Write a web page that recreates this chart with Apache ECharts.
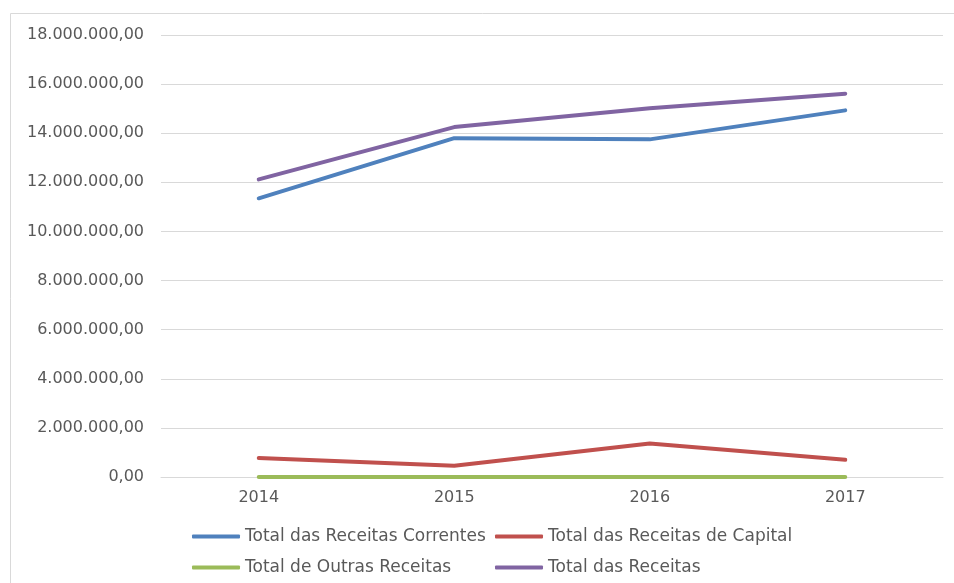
<!DOCTYPE html>
<html>
<head>
<meta charset="utf-8">
<script src="https://cdn.jsdelivr.net/npm/echarts@6/dist/echarts.min.js"></script>
<style>
  html, body { margin: 0; padding: 0; background: #fff; }
  #chart { width: 954px; height: 583px; }
</style>
</head>
<body>
<div id="chart"></div>
<script>
const years = ['2014', '2015', '2016', '2017']
const correntes = [11350000, 13800000, 13750000, 14930000]
const capital = [770000, 460000, 1360000, 700000]
const outras = [0, 0, 0, 0]
const totais = [12120000, 14250000, 15020000, 15610000]

const names = [
  'Total das Receitas Correntes',
  'Total das Receitas de Capital',
  'Total de Outras Receitas',
  'Total das Receitas'
]
const colors = ['#4f81bd', '#c0504d', '#9bbb59', '#8064a2']

const fmt = v => {
  const s = Math.round(v).toString().replace(/\B(?=(\d{3})+(?!\d))/g, '.')
  return s + ',00'
}

const chart = echarts.init(document.getElementById('chart'))

const legendPos = [
  { left: 192, top: 528 },
  { left: 495, top: 528 },
  { left: 192, top: 559 },
  { left: 495, top: 559 }
]

const option = {
  animation: false,
  color: colors,
  textStyle: { fontFamily: 'DejaVu Sans, sans-serif' },
  graphic: [{
    type: 'rect',
    shape: { x: 10.5, y: 13.5, width: 960, height: 600 },
    style: { fill: 'none', stroke: '#d9d9d9', lineWidth: 1 },
    silent: true
  }],
  legend: names.map((n, i) => ({
    data: [n],
    left: legendPos[i].left,
    top: legendPos[i].top,
    icon: 'roundRect',
    itemWidth: 48,
    itemHeight: 4,
    itemGap: 6,
    padding: 0,
    textStyle: { fontSize: 17, color: '#595959' }
  })),
  grid: {
    left: 161,
    right: 11,
    top: 35,
    bottom: 106
  },
  xAxis: {
    type: 'category',
    data: years,
    boundaryGap: true,
    axisTick: { show: false },
    axisLine: { lineStyle: { color: '#d9d9d9', width: 1 } },
    axisLabel: { color: '#595959', fontSize: 16, margin: 13 }
  },
  yAxis: {
    type: 'value',
    min: 0,
    max: 18000000,
    interval: 2000000,
    axisLine: { show: false },
    axisTick: { show: false },
    axisLabel: { color: '#595959', fontSize: 16, margin: 17, formatter: fmt },
    splitLine: { lineStyle: { color: '#d9d9d9', width: 1 } }
  },
  series: [
    { name: names[0], type: 'line', data: correntes },
    { name: names[1], type: 'line', data: capital },
    { name: names[2], type: 'line', data: outras },
    { name: names[3], type: 'line', data: totais }
  ].map(s => Object.assign(s, {
    symbol: 'none',
    lineStyle: { width: 4, cap: 'round', join: 'round' }
  }))
}

chart.setOption(option)
</script>
</body>
</html>
